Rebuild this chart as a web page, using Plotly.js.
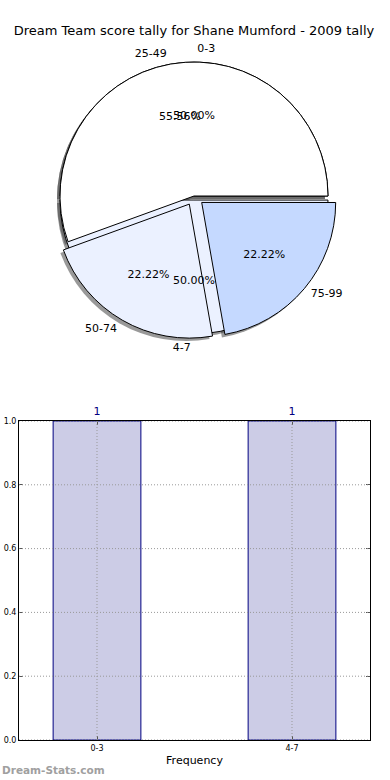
<!DOCTYPE html>
<html>
<head>
<meta charset="utf-8">
<script src="https://cdn.plot.ly/plotly-3.0.1.min.js"></script>
<style>html,body{margin:0;padding:0;background:#fff;}#chart{width:390px;height:780px;}</style>
</head>
<body>
<div id="chart"></div>
<script>
// ---- data ----
const chartTitle = "Dream Team score tally for Shane Mumford - 2009 tally";
const scoreLabels = ["25-49", "50-74", "75-99"];
const scoreCounts = [5, 2, 2];
const rangeLabels = ["0-3", "4-7"];
const rangeCounts = [1, 1];
const barCategories = ["0-3", "4-7"];
const barValues = [1, 1];
const yTickValues = [0, 0.2, 0.4, 0.6, 0.8, 1.0];
const xAxisLabel = "Frequency";
const watermark = "Dream-Stats.com";

// ---- styling / geometry ----
const W = 390, H = 780;
const R = 134, cx = 194, cy = 196;
const scoreColors = ["#ffffff", "#ebf1ff", "#c5d9ff"];
const rangeColors = ["#ffffff", "#ebf1ff"];
const scorePull = [0, 0.07, 0.075];
const rangePull = [0, 0.03];
const font = "DejaVu Sans, sans-serif";

// slices run counter-clockwise from 3 o'clock in the reference:
// draw them clockwise from 3 o'clock in reversed order
function rev(a) { return a.slice().reverse(); }

function dom(r, pulls, dx, dy) {
  dx = dx || 0; dy = dy || 0;
  const mp = Math.max.apply(null, pulls);
  const S = 2 * r * (1 + mp);
  return {
    x: [(cx + dx - S / 2) / W, (cx + dx + S / 2) / W],
    y: [(H - (cy + dy) - S / 2) / H, (H - (cy + dy) + S / 2) / H]
  };
}
function scaled(pulls, r) { return pulls.map(p => p * R / r); }
function clear(n) { return new Array(n).fill("rgba(0,0,0,0)"); }
function fill(n, c) { return new Array(n).fill(c); }

const pieBase = {
  type: "pie", sort: false, direction: "clockwise", rotation: 90.02,
  showlegend: false, hoverinfo: "skip",
  textfont: { family: font, size: 11, color: "#000" },
  outsidetextfont: { family: font, size: 11, color: "#000" },
  insidetextfont: { family: font, size: 11, color: "#000" },
  insidetextorientation: "horizontal"
};

function pie(labels, values, pulls, r, extra) {
  const t = Object.assign({}, pieBase, {
    labels: rev(labels), values: rev(values), pull: rev(scaled(pulls, r))
  }, extra, { domain: dom(r, scaled(pulls, r), extra.dx, extra.dy) });
  delete t.dx; delete t.dy;
  return t;
}

const shadow = "rgba(70,70,70,0.55)";
const traces = [];
// shadows
traces.push(pie(rangeLabels, rangeCounts, rangePull, R, {
  marker: { colors: fill(2, shadow), line: { width: 0 } }, textinfo: "none", dx: -3, dy: 3 }));
traces.push(pie(scoreLabels, scoreCounts, scorePull, R, {
  marker: { colors: fill(3, shadow), line: { width: 0 } }, textinfo: "none", dx: -3, dy: 3 }));
// range pie (underneath)
traces.push(pie(rangeLabels, rangeCounts, rangePull, R, {
  marker: { colors: rev(rangeColors), line: { color: "#000", width: 1 } }, textinfo: "none" }));
// score pie (on top)
traces.push(pie(scoreLabels, scoreCounts, scorePull, R, {
  marker: { colors: rev(scoreColors), line: { color: "#000", width: 1 } },
  textinfo: "percent", texttemplate: "%{percent:.2%}",
  textposition: rev(["none", "inside", "inside"]) }));
// percent text for the large slices (placed at ~0.6 R)
const rT = 1.2 * R;
traces.push(pie(scoreLabels, scoreCounts, scorePull, rT, {
  marker: { colors: clear(3), line: { width: 0 } },
  textinfo: "percent", texttemplate: "%{percent:.2%}",
  textposition: rev(["inside", "none", "none"]) }));
traces.push(pie(rangeLabels, rangeCounts, rangePull, rT, {
  marker: { colors: clear(2), line: { width: 0 } },
  textinfo: "percent", texttemplate: "%{percent:.2%}", textposition: "inside" }));
// outside labels
traces.push(pie(scoreLabels, scoreCounts, scorePull, 1.03 * R, {
  marker: { colors: clear(3), line: { width: 0 } }, textinfo: "label", textposition: "outside" }));
traces.push(pie(rangeLabels, rangeCounts, rangePull, 1.05 * R, {
  marker: { colors: clear(2), line: { width: 0 } }, textinfo: "label", textposition: "outside" }));

// bar chart
traces.push({
  type: "bar", x: barCategories, y: barValues, width: 0.45,
  marker: { color: "#ccccE6", line: { color: "#000080", width: 1 } },
  text: barValues.map(String), textposition: "outside", cliponaxis: false,
  textfont: { family: font, size: 11, color: "#000080" },
  xaxis: "x", yaxis: "y", showlegend: false, hoverinfo: "skip"
});

const axisCommon = {
  showline: true, linecolor: "#000", linewidth: 1, mirror: "allticks",
  ticks: "inside", ticklen: 4, tickcolor: "#555", tickwidth: 1,
  showgrid: false, zeroline: false, tickfont: { family: font, size: 8, color: "#000" }
};

// grid drawn above the bars (as in the reference)
const gridLine = { color: "#999999", width: 1, dash: "1px,2px" };
const shapes = [];
yTickValues.forEach(v => shapes.push({
  type: "line", layer: "above", xref: "x domain", x0: 0, x1: 1, yref: "y", y0: v, y1: v, line: gridLine }));
barCategories.forEach((c, i) => shapes.push({
  type: "line", layer: "above", xref: "x", x0: i, x1: i, yref: "y domain", y0: 0, y1: 1, line: gridLine }));

const layout = {
  width: W, height: H, margin: { l: 0, r: 0, t: 0, b: 0 },
  paper_bgcolor: "#fff", plot_bgcolor: "#fff",
  title: { text: chartTitle, x: 194 / W, xanchor: "center", y: 1 - 30 / H, yanchor: "middle",
           yref: "container", xref: "container", font: { family: font, size: 13, color: "#000" } },
  xaxis: Object.assign({}, axisCommon, {
    domain: [19 / W, 370 / W], range: [-0.4, 1.4], type: "category",
    title: { text: xAxisLabel, standoff: 4, font: { family: font, size: 11, color: "#000" } },
    anchor: "y"
  }),
  yaxis: Object.assign({}, axisCommon, {
    domain: [(H - 740) / H, (H - 421) / H], range: [0, 1],
    tickvals: yTickValues, tickformat: ".1f", anchor: "x"
  }),
  shapes: shapes,
  annotations: [{
    text: "<b>" + watermark + "</b>", xref: "paper", yref: "paper",
    x: 0, y: 1 - 770 / H, xanchor: "left", yanchor: "middle", showarrow: false,
    font: { family: font, size: 10.5, color: "#a0a0a0" }
  }]
};

Plotly.newPlot("chart", traces, layout, { staticPlot: true, displayModeBar: false });
</script>
</body>
</html>
